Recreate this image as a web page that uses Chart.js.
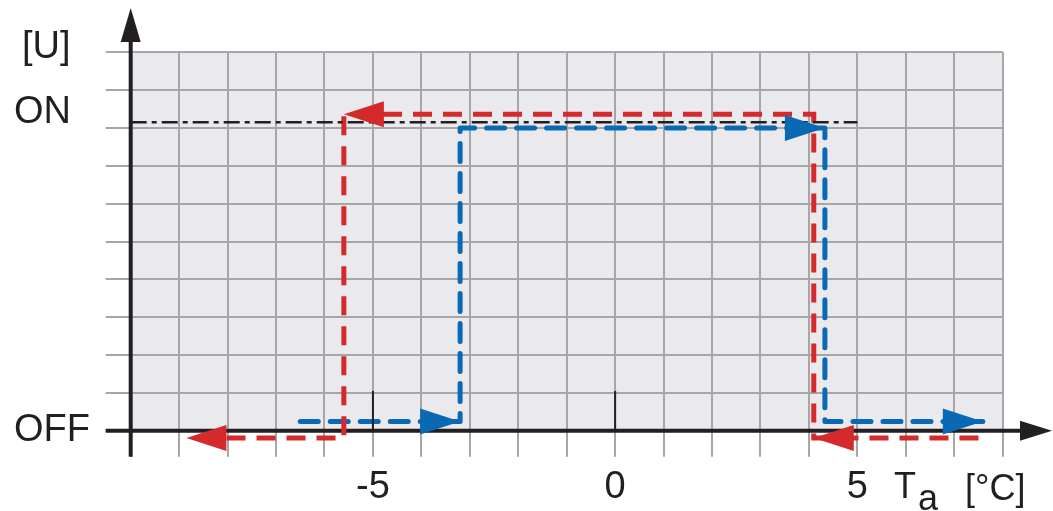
<!DOCTYPE html>
<html>
<head>
<meta charset="utf-8">
<script src="https://cdn.jsdelivr.net/npm/chart.js@4.4.0/dist/chart.umd.min.js"></script>
<style>
  html, body { margin: 0; padding: 0; background: #fff; }
  #wrap { width: 1053px; height: 511px; }
</style>
</head>
<body>
<div id="wrap"><canvas id="hyst" width="1053" height="511"></canvas></div>
<script>
// temperature axis Ta, °C
const xMin = -10, xMax = 8;
const xTickLabels = { '-5': '-5', '0': '0', '5': '5' };
// switching state axis, OFF = 0
const yMin = 0, yMax = 10;
const yTickLabels = [{ value: 0, label: 'OFF' }, { value: 8.4, label: 'ON' }];

// ON reference line (dash-dot)
const onLevel = 8.15;
const onLineX = [-10, 5];

// falling temperature (red)
const coolX = [7.5, 4.1, 4.1, -5.6, -5.6, -8.85];
const coolY = [-0.19, -0.19, 8.36, 8.36, -0.19, -0.19];

// rising temperature (blue)
const heatX = [-6.5, -3.2, -3.2, 4.33, 4.33, 7.59];
const heatY = [0.24, 0.24, 8.0, 8.0, 0.24, 0.24];

// vertices that carry an arrowhead
const arrowAt = [1, 3, 5];

// short marks on the axis
const markX = [-5, 0];
const markTop = 1.05;

const RED = '#d42a2c';
const BLUE = '#0a69b5';
const INK = '#231f20';
const GRID = '#a6a6a6';
const FONT = "'Liberation Sans', Arial, sans-serif";

const toPts = (xs, ys) => xs.map((x, i) => ({ x: x, y: ys[i] }));

const markPts = [];
markX.forEach((x, i) => {
  if (i > 0) markPts.push({ x: x, y: null });
  markPts.push({ x: x, y: 0 }, { x: x, y: markTop });
});

function arrowHead(ctx, tip, from, color, len, half) {
  const a = Math.atan2(tip.y - from.y, tip.x - from.x);
  ctx.save();
  ctx.translate(tip.x, tip.y);
  ctx.rotate(a);
  ctx.fillStyle = color;
  ctx.beginPath();
  ctx.moveTo(0, 0);
  ctx.lineTo(-len, -half);
  ctx.lineTo(-len, half);
  ctx.closePath();
  ctx.fill();
  ctx.restore();
}

// background, axes with arrows, arrowheads and axis titles
const frame = {
  id: 'frame',
  beforeDraw(chart) {
    const { ctx, chartArea: a } = chart;
    ctx.save();
    ctx.fillStyle = '#e9e9ee';
    ctx.fillRect(a.left, a.top, a.right - a.left, a.bottom - a.top);
    ctx.restore();
  },
  beforeDatasetsDraw(chart) {
    const { ctx } = chart;
    const xs = chart.scales.x, ys = chart.scales.y;
    const x0 = xs.getPixelForValue(xMin);
    const y0 = ys.getPixelForValue(0);
    ctx.save();
    ctx.strokeStyle = INK;
    ctx.lineWidth = 4;
    ctx.beginPath();
    ctx.moveTo(x0 - 25, y0);
    ctx.lineTo(1022, y0);
    ctx.moveTo(x0, y0 + 26);
    ctx.lineTo(x0, 40);
    ctx.stroke();
    ctx.restore();
    arrowHead(ctx, { x: 1052, y: y0 }, { x: x0, y: y0 }, INK, 32, 10);
    arrowHead(ctx, { x: x0, y: 8 }, { x: x0, y: y0 }, INK, 34, 10);
  },
  afterDatasetsDraw(chart) {
    const { ctx } = chart;
    chart.data.datasets.forEach((ds, i) => {
      if (!ds.arrows) return;
      const pts = chart.getDatasetMeta(i).data;
      ds.arrows.forEach(k => arrowHead(ctx, pts[k], pts[k - 1], ds.borderColor, 40, 13));
    });
    ctx.save();
    ctx.fillStyle = INK;
    ctx.textBaseline = 'alphabetic';
    ctx.textAlign = 'left';
    ctx.font = '38px ' + FONT;
    ctx.fillText('[U]', 22, 58);
    ctx.font = '36px ' + FONT;
    ctx.fillText('T', 894, 498);
    ctx.fillText('a', 918, 510);
    ctx.fillText('[°C]', 965, 500);
    ctx.restore();
  }
};

new Chart(document.getElementById('hyst'), {
  type: 'scatter',
  data: {
    datasets: [
      {
        label: 'ON',
        data: toPts(onLineX, onLineX.map(() => onLevel)),
        showLine: true,
        borderColor: INK,
        borderWidth: 2.5,
        borderDash: [16, 5, 5, 5],
        pointRadius: 0
      },
      {
        label: 'marks',
        data: markPts,
        showLine: true,
        borderColor: INK,
        borderWidth: 2,
        pointRadius: 0
      },
      {
        label: 'falling',
        data: toPts(coolX, coolY),
        showLine: true,
        borderColor: RED,
        borderWidth: 5,
        borderDash: [19, 11],
        borderJoinStyle: 'miter',
        pointRadius: 0,
        clip: false,
        arrows: arrowAt
      },
      {
        label: 'rising',
        data: toPts(heatX, heatY),
        showLine: true,
        borderColor: BLUE,
        borderWidth: 5,
        borderDash: [18, 12],
        borderCapStyle: 'round',
        borderJoinStyle: 'round',
        pointRadius: 0,
        clip: false,
        arrows: arrowAt
      }
    ]
  },
  options: {
    responsive: false,
    animation: false,
    events: [],
    layout: { padding: { left: 14, top: 52.3, right: 50.3, bottom: 0 } },
    plugins: { legend: { display: false }, tooltip: { enabled: false } },
    scales: {
      x: {
        type: 'linear',
        min: xMin,
        max: xMax,
        afterFit: s => { s.height = 80.3; },
        border: { display: false },
        grid: { color: GRID, lineWidth: 2, tickLength: 26, tickColor: GRID },
        ticks: {
          stepSize: 1,
          autoSkip: false,
          maxRotation: 0,
          padding: 8,
          color: INK,
          font: { family: FONT, size: 38 },
          callback: v => xTickLabels[String(v)] || ''
        }
      },
      y: {
        type: 'linear',
        min: yMin,
        max: yMax,
        afterFit: s => { s.width = 130.7 - 14; },
        afterBuildTicks: s => {
          const t = [];
          for (let v = yMin; v <= yMax; v++) t.push({ value: v });
          yTickLabels.forEach(l => { if (!t.some(k => k.value === l.value)) t.push({ value: l.value }); });
          s.ticks = t;
        },
        border: { display: false },
        grid: {
          lineWidth: 2,
          tickLength: 25,
          color: c => (c.tick && !Number.isInteger(c.tick.value)) ? 'rgba(0,0,0,0)' : GRID,
          tickColor: c => (c.tick && !Number.isInteger(c.tick.value)) ? 'rgba(0,0,0,0)' : GRID
        },
        ticks: {
          autoSkip: false,
          crossAlign: 'far',
          color: INK,
          font: { family: FONT, size: 38 },
          callback: v => {
            const l = yTickLabels.find(k => k.value === v);
            return l ? l.label : '';
          }
        }
      }
    }
  },
  plugins: [frame]
});
</script>
</body>
</html>
